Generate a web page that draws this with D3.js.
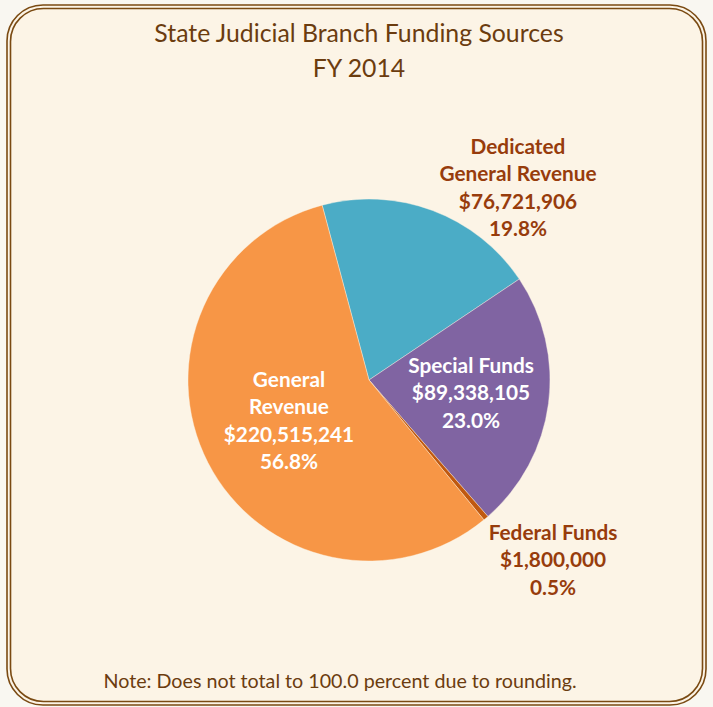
<!DOCTYPE html>
<html>
<head>
<meta charset="utf-8">
<script src="https://cdn.jsdelivr.net/npm/d3@7"></script>
<style>
  body { margin: 0; background: #f9f7f1; }
  svg { display: block; }
</style>
</head>
<body>
<script>
// chart data
var categories = ["Dedicated General Revenue", "Special Funds", "Federal Funds", "General Revenue"];
var amounts = [76721906, 89338105, 1800000, 220515241];
var percents = ["19.8%", "23.0%", "0.5%", "56.8%"];
var sliceColors = ["#4bacc6", "#8064a2", "#c0580f", "#f79646"];

var width = 713, height = 707;
var cx = 369, cy = 380, radius = 181;

var svg = d3.select("body").append("svg")
    .attr("width", width)
    .attr("height", height)
    .style("font-family", "Lato, 'Open Sans', sans-serif");

// double rounded border
svg.append("rect")
    .attr("x", 7).attr("y", 5).attr("width", 699).attr("height", 700)
    .attr("rx", 36).attr("ry", 36)
    .attr("fill", "#fcf4e6").attr("stroke", "#7a4a12").attr("stroke-width", 1.6);
svg.append("rect")
    .attr("x", 10.5).attr("y", 8.5).attr("width", 692).attr("height", 693)
    .attr("rx", 33).attr("ry", 33)
    .attr("fill", "none").attr("stroke", "#7a4a12").attr("stroke-width", 1.6);

// title
var title = svg.append("text")
    .attr("text-anchor", "middle")
    .attr("fill", "#6b3c0f")
    .style("font-size", "24.8px");
title.append("tspan").attr("x", 359).attr("y", 42).text("State Judicial Branch Funding Sources");
title.append("tspan").attr("x", 359).attr("y", 77).text("FY 2014");

// pie
var data = categories.map(function(c, i) {
  return {name: c, value: amounts[i], pct: percents[i], color: sliceColors[i]};
});

var pie = d3.pie()
    .sort(null)
    .value(function(d) { return d.value; })
    .startAngle(-15 * Math.PI / 180)
    .endAngle(345 * Math.PI / 180);

var arc = d3.arc().innerRadius(0).outerRadius(radius);

var g = svg.append("g").attr("transform", "translate(" + cx + "," + cy + ")");

g.selectAll("path")
    .data(pie(data))
    .enter()
    .append("path")
    .attr("d", arc)
    .attr("fill", function(d) { return d.data.color; })
    .attr("stroke", "#fcf4e6")
    .attr("stroke-width", 0.4);

// labels
var fmt = d3.format("$,");
var labels = [
  {lines: ["Dedicated", "General Revenue", fmt(amounts[0]), percents[0]], x: 518, y: 154, fill: "#973c0c"},
  {lines: ["Special Funds", fmt(amounts[1]), percents[1]], x: 471, y: 373, fill: "#ffffff"},
  {lines: ["Federal Funds", fmt(amounts[2]), percents[2]], x: 553, y: 540, fill: "#973c0c"},
  {lines: ["General", "Revenue", fmt(amounts[3]), percents[3]], x: 289, y: 387, fill: "#ffffff"}
];

labels.forEach(function(l) {
  var t = svg.append("text")
      .attr("text-anchor", "middle")
      .attr("fill", l.fill)
      .style("font-size", "20.8px")
      .style("font-weight", "bold");
  l.lines.forEach(function(s, i) {
    t.append("tspan").attr("x", l.x).attr("y", l.y + i * 27.3).text(s);
  });
});

// note
svg.append("text")
    .attr("x", 340).attr("y", 688)
    .attr("text-anchor", "middle")
    .attr("fill", "#6b3c0f")
    .style("font-size", "19.7px")
    .text("Note: Does not total to 100.0 percent due to rounding.");
</script>
</body>
</html>
